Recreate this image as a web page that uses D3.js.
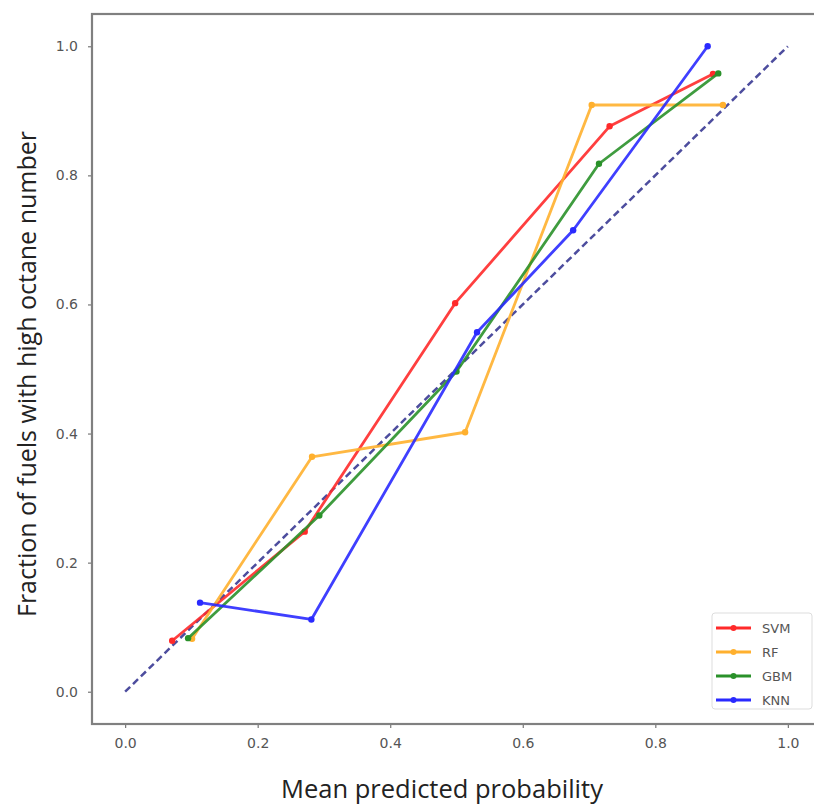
<!DOCTYPE html>
<html>
<head>
<meta charset="utf-8">
<script src="https://cdn.jsdelivr.net/npm/d3@7"></script>
<style>
  body { margin: 0; background: #fff; }
  svg { display: block; }
</style>
</head>
<body>
<svg id="svg" width="814" height="810"></svg>
<script>
// calibration curve data
var seriesNames = ["SVM", "RF", "GBM", "KNN"];
var seriesColors = ["#ff2a2a", "#ffb02e", "#2a912a", "#2a2aff"];

var svmX = [0.071, 0.271, 0.498, 0.731, 0.887];
var svmY = [0.079, 0.248, 0.602, 0.876, 0.957];
var rfX = [0.101, 0.282, 0.513, 0.704, 0.902];
var rfY = [0.082, 0.364, 0.402, 0.909, 0.909];
var gbmX = [0.095, 0.293, 0.500, 0.715, 0.895];
var gbmY = [0.083, 0.273, 0.496, 0.818, 0.958];
var knnX = [0.113, 0.281, 0.531, 0.676, 0.879];
var knnY = [0.138, 0.112, 0.557, 0.715, 1.000];

var xTicks = [0.0, 0.2, 0.4, 0.6, 0.8, 1.0];
var yTicks = [0.0, 0.2, 0.4, 0.6, 0.8, 1.0];

var svg = d3.select("#svg");
var plot = {left: 92, top: 14, right: 821, bottom: 724};

var xScale = d3.scaleLinear().domain([-0.05, 1.05]).range([plot.left, plot.right]);
var yScale = d3.scaleLinear().domain([-0.05, 1.05]).range([plot.bottom, plot.top]);

var tickColor = "#555";

// x axis
var xAxis = svg.append("g")
  .attr("transform", "translate(0," + plot.bottom + ")")
  .call(d3.axisBottom(xScale).tickValues(xTicks).tickFormat(d3.format(".1f")).tickSize(4).tickPadding(10));
var yAxis = svg.append("g")
  .attr("transform", "translate(" + plot.left + ",0)")
  .call(d3.axisLeft(yScale).tickValues(yTicks).tickFormat(d3.format(".1f")).tickSize(4).tickPadding(10));

[xAxis, yAxis].forEach(function(a){
  a.select(".domain").remove();
  a.selectAll(".tick line").attr("stroke", "#777").attr("stroke-width", 1.2);
  a.selectAll(".tick text")
    .attr("fill", tickColor)
    .style("font-family", "DejaVu Sans, sans-serif")
    .style("font-size", "14px");
});

// frame
svg.append("rect")
  .attr("x", plot.left).attr("y", plot.top)
  .attr("width", plot.right - plot.left).attr("height", plot.bottom - plot.top)
  .attr("fill", "none").attr("stroke", "#808080").attr("stroke-width", 2.2);

// perfect calibration diagonal
svg.append("line")
  .attr("x1", xScale(0)).attr("y1", yScale(0))
  .attr("x2", xScale(1)).attr("y2", yScale(1))
  .attr("stroke", "#4d4d9e").attr("stroke-width", 2.5)
  .attr("stroke-dasharray", "7,4");

var allX = [svmX, rfX, gbmX, knnX];
var allY = [svmY, rfY, gbmY, knnY];

var line = d3.line().x(d => xScale(d[0])).y(d => yScale(d[1]));

seriesNames.forEach(function(name, i){
  var pts = allX[i].map((x, j) => [x, allY[i][j]]);
  svg.append("path")
    .datum(pts)
    .attr("d", line)
    .attr("fill", "none")
    .attr("stroke", seriesColors[i])
    .attr("stroke-width", 2.8)
    .attr("stroke-opacity", 0.9)
    .attr("stroke-linejoin", "round");
  svg.append("g").selectAll("circle")
    .data(pts)
    .enter()
    .append("circle")
    .attr("cx", d => xScale(d[0]))
    .attr("cy", d => yScale(d[1]))
    .attr("r", 3.2)
    .attr("fill", seriesColors[i]);
});

// legend
var legend = svg.append("g").attr("transform", "translate(712,613)");
legend.append("rect")
  .attr("width", 100).attr("height", 96).attr("rx", 3)
  .attr("fill", "#fff").attr("stroke", "#ddd").attr("stroke-width", 1);
seriesNames.forEach(function(name, i){
  var g = legend.append("g").attr("transform", "translate(0," + (15 + i * 24) + ")");
  g.append("line").attr("x1", 4).attr("x2", 39).attr("y1", 0).attr("y2", 0)
    .attr("stroke", seriesColors[i]).attr("stroke-width", 2.8);
  g.append("circle").attr("cx", 21.5).attr("cy", 0).attr("r", 3).attr("fill", seriesColors[i]);
  g.append("text").attr("x", 50).attr("y", 5)
    .attr("fill", "#555")
    .style("font-family", "DejaVu Sans, sans-serif")
    .style("font-size", "13px")
    .text(name);
});

// axis titles
svg.append("text")
  .attr("x", 442).attr("y", 798)
  .attr("text-anchor", "middle")
  .attr("fill", "#222")
  .style("font-family", "Open Sans, sans-serif")
  .style("font-size", "25.5px")
  .text("Mean predicted probability");

svg.append("text")
  .attr("transform", "translate(36,374) rotate(-90)")
  .attr("text-anchor", "middle")
  .attr("fill", "#222")
  .style("font-family", "Open Sans, sans-serif")
  .style("font-size", "25px")
  .text("Fraction of fuels with high octane number");
</script>
</body>
</html>
